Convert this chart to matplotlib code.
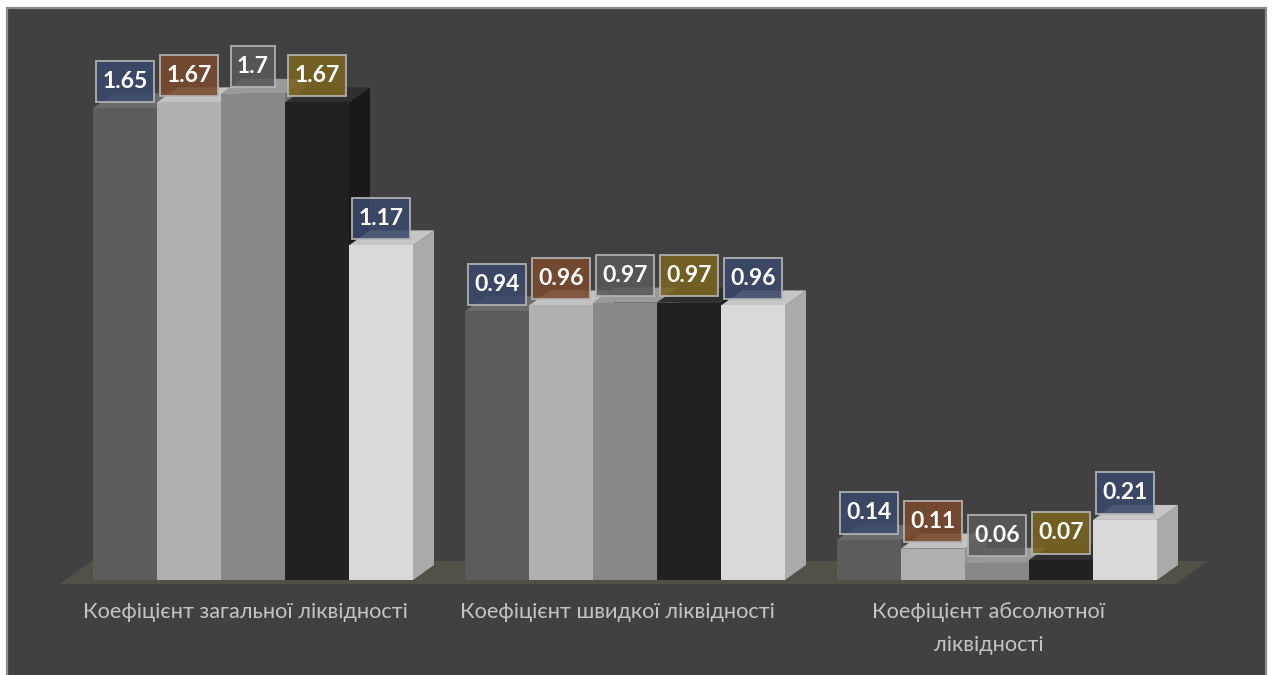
import matplotlib
matplotlib.use("Agg")
import matplotlib.pyplot as plt
from matplotlib.patches import Polygon, Rectangle
from matplotlib.path import Path

# Liquidity ratios, five periods per ratio
categories = ["Коефіцієнт загальної ліквідності",
              "Коефіцієнт швидкої ліквідності",
              "Коефіцієнт абсолютної\nліквідності"]
series_1 = [1.65, 0.94, 0.14]
series_2 = [1.67, 0.96, 0.11]
series_3 = [1.70, 0.97, 0.06]
series_4 = [1.67, 0.97, 0.07]
series_5 = [1.17, 0.96, 0.21]
all_series = [series_1, series_2, series_3, series_4, series_5]

# face colours per series: (front, top, side)
bar_faces = [("#5c5c5c", "#6b6b6b", "#4b4b4b"),
             ("#b0b0b0", "#c2c2c2", "#919191"),
             ("#888888", "#999999", "#6f6f6f"),
             ("#212121", "#2f2f2f", "#191919"),
             ("#d9d9d9", "#c6c6c6", "#aaaaaa")]
label_colors = ["#3a4a6c", "#7a4a2e", "#5a5a5a", "#7a6420", "#3a4a6c"]

W, H = 1272, 675
fig = plt.figure(figsize=(W / 100, H / 100), dpi=100, facecolor="white")
ax = fig.add_axes([0, 0, 1, 1])
ax.axis("off")
ax.patch.set_alpha(0)

# 1 category unit = 372 px, 1 value unit = 286 px; baseline 95 px from bottom
px_x, px_y = 372.0, 286.0
x0_px, base_px = 253.0, 95.0
ax.set_xlim(-x0_px / px_x, (W - x0_px) / px_x)
ax.set_ylim(-base_px / px_y, (H - base_px) / px_y)

# dark chart panel with grey border
ax.add_patch(Rectangle((7 / W, -0.01), (1266 - 7) / W, (H - 8) / H + 0.01,
                       transform=fig.transFigure, facecolor="#414141",
                       edgecolor="#8c8c8c", lw=1.6, zorder=0))

bar_w = 64 / px_x
n = len(all_series)
dx, dy = 21 / px_x, 15 / px_y

# floor of the 3-D plot
f_front, f_back = -4 / px_y, 19 / px_y
fl, fr = (60 - x0_px) / px_x, (1176 - x0_px) / px_x
fdx = 32 / px_x
ax.add_patch(Polygon([(fl, f_front), (fr, f_front), (fr + fdx, f_back), (fl + fdx, f_back)],
                     closed=True, facecolor="#545047", edgecolor="none", zorder=1))

z = 2
for ci in range(len(categories)):
    for si, ser in enumerate(all_series):
        v = ser[ci]
        xl = ci - n * bar_w / 2 + si * bar_w
        xr = xl + bar_w
        front, top, side = bar_faces[si]
        ax.add_patch(Polygon([(xr, 0), (xr + dx, dy), (xr + dx, v + dy), (xr, v)],
                             closed=True, facecolor=side, edgecolor="none", zorder=z))
        ax.add_patch(Polygon([(xl, v), (xr, v), (xr + dx, v + dy), (xl + dx, v + dy)],
                             closed=True, facecolor=top, edgecolor="none", zorder=z))
        ax.add_patch(Rectangle((xl, 0), bar_w, v, facecolor=front,
                               edgecolor="none", zorder=z))
        z += 1


def label_box(x0, y0, width, height, mutation_size):
    """Rectangular box with separate horizontal / vertical padding."""
    px_, py_ = 0.28 * mutation_size, 0.44 * mutation_size
    x0, y0 = x0 - px_, y0 - py_
    x1, y1 = x0 + width + 2 * px_, y0 + height + 2 * py_
    return Path([(x0, y0), (x1, y0), (x1, y1), (x0, y1), (x0, y0)], closed=True)


# value labels
for ci in range(len(categories)):
    for si, ser in enumerate(all_series):
        v = ser[ci]
        xc = ci - n * bar_w / 2 + (si + 0.5) * bar_w
        ax.text(xc, v + 27 / px_y, f"{v:g}", ha="center", va="center",
                fontsize=16.5, fontweight="bold", color="white", family="Lato",
                zorder=50,
                bbox=dict(boxstyle=label_box, facecolor=label_colors[si],
                          alpha=0.88, edgecolor="#b5b5b5", lw=1.4))

# category labels
for ci, cat in enumerate(categories):
    yl = -32 / px_y if "\n" not in cat else -48.5 / px_y
    ax.text(ci - 8 / px_x, yl, cat, ha="center", va="center", fontsize=15.7,
            color="#c4c4c4", family="Lato", linespacing=1.8, zorder=50)

fig.savefig("out.png", dpi=100, facecolor="white")
